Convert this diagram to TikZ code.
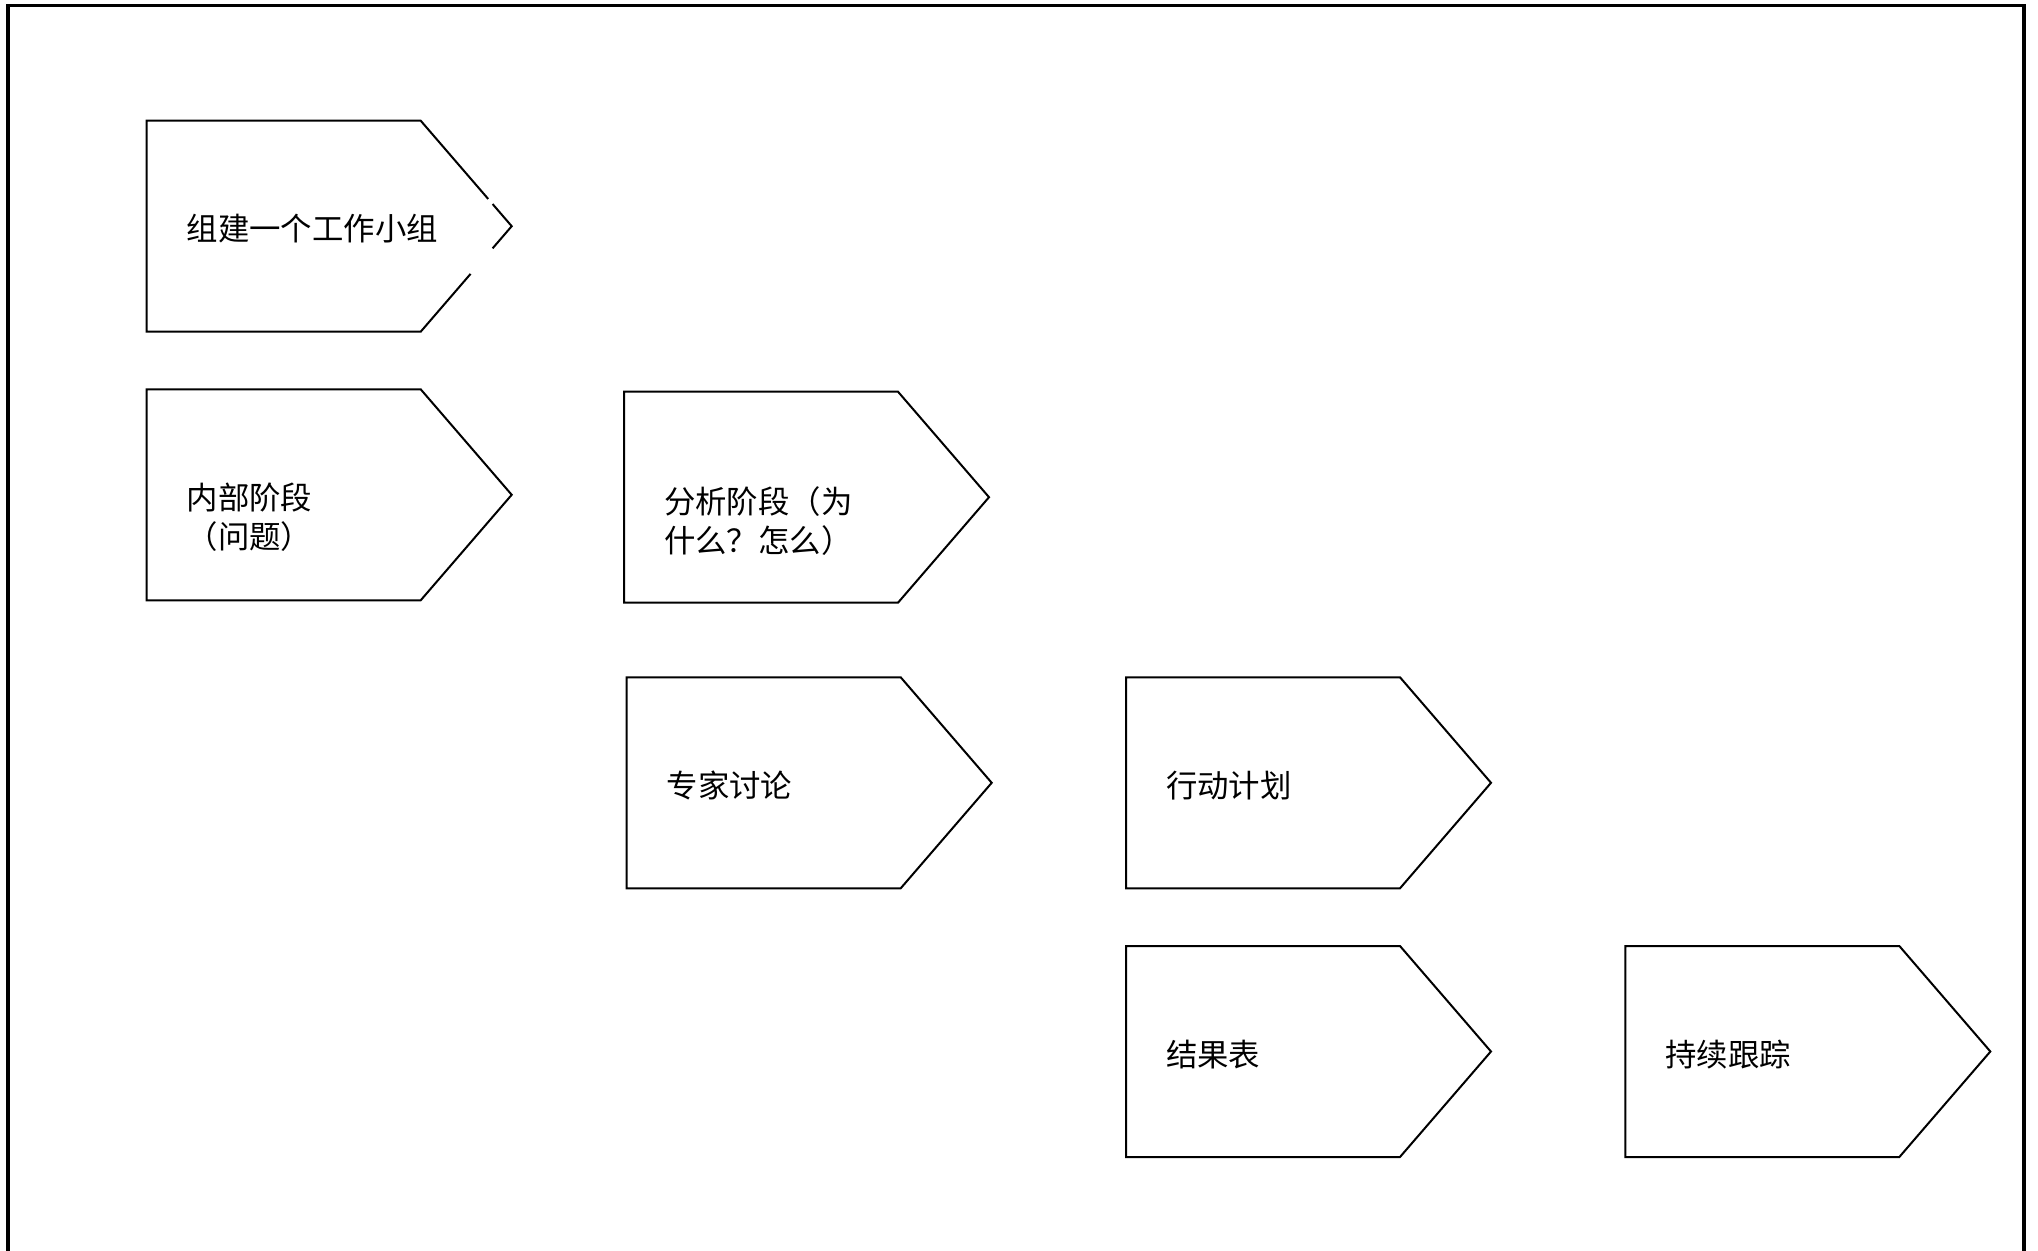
\documentclass[tikz,border=0pt]{standalone}
\usepackage{fontspec}
\usetikzlibrary{calc}
\newfontfamily\cjk{Noto Sans CJK SC}
\tikzset{
  boxbase/.style={draw=none, inner sep=0pt, outer sep=0pt, minimum width=137pt, minimum height=105.5pt},
  shapeline/.style={draw=black, line width=1pt, line join=miter},
  framel/.style={draw=black, line width=1.6pt},
  lbl/.style={inner sep=0pt, outer sep=0pt, align=left, font=\cjk\fontsize{15.7pt}{19.5pt}\selectfont}
}
\newcommand{\chevbox}[5]{% name, left, top, text, yshift
  \node[boxbase, anchor=north west] (#1) at (#2,#3) {};
  \draw[shapeline] (#1.north west) -- (#1.north east) -- ++(91,105.5) -- (#1.south east) -- (#1.south west) -- cycle;
  \node[lbl, anchor=west] (#1t) at ([xshift=20pt,yshift=#5]#1.west) {#4};
}
\begin{document}
\begin{tikzpicture}[x=0.5pt,y=-0.5pt]
\useasboundingbox (0,0) rectangle (2038,1251);
\fill[white] (0,0) rectangle (2038,1251);
% frame
\draw[framel] (8,1251) -- (8,5.5) -- (2024,5.5) -- (2024,1251);
% shape 1 (with small gaps on the pointed side)
\node[boxbase, anchor=north west] (s1) at (146.7,120.7) {};
\coordinate (s1tip) at ([xshift=45.5pt]s1.east);
\draw[shapeline] ($(s1.north east)!0.742!(s1tip)$) -- (s1.north east) -- (s1.north west) -- (s1.south west) -- (s1.south east) -- ($(s1.south east)!0.548!(s1tip)$);
\draw[shapeline] ($(s1.north east)!0.79!(s1tip)$) -- (s1tip) -- ($(s1tip)!0.21!(s1.south east)$);
\node[lbl, anchor=west] (s1t) at ([xshift=20pt,yshift=-1.2pt]s1.west) {组建一个工作小组};
% other shapes
\chevbox{s2}{146.7}{389.3}{内部阶段\\（问题）}{-11.3pt}
\chevbox{s3}{624}{391.7}{分析阶段（为\\什么？怎么）}{-12pt}
\chevbox{s4}{626.7}{677.3}{专家讨论}{-1.3pt}
\chevbox{s5}{1126}{677.3}{行动计划}{-1.3pt}
\chevbox{s6}{1126}{946}{结果表}{-1.3pt}
\chevbox{s7}{1625.3}{946}{持续跟踪}{-1.3pt}
\end{tikzpicture}
\end{document}
